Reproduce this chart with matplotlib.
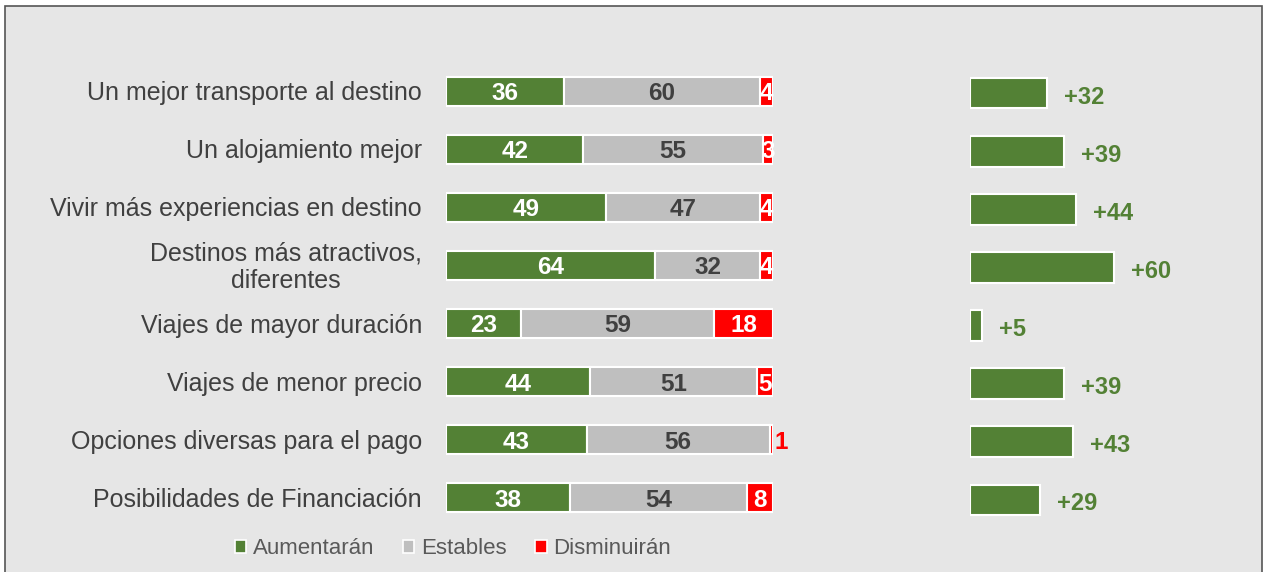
import matplotlib.pyplot as plt
from matplotlib.patches import Rectangle, Patch

plt.rcParams['font.family'] = ['Liberation Sans', 'DejaVu Sans']

categorias = ['Un mejor transporte al destino', 'Un alojamiento mejor',
              'Vivir más experiencias en destino', 'Destinos más atractivos,\ndiferentes',
              'Viajes de mayor duración', 'Viajes de menor precio',
              'Opciones diversas para el pago', 'Posibilidades de Financiación']
aumentaran = [36, 42, 49, 64, 23, 44, 43, 38]
estables = [60, 55, 47, 32, 59, 51, 56, 54]
disminuiran = [4, 3, 4, 4, 18, 5, 1, 8]
saldo = [32, 39, 44, 60, 5, 39, 43, 29]

verde = '#538135'
gris = '#BFBFBF'
rojo = '#FF0000'
texto = '#404040'

W, H = 1266, 572
fig = plt.figure(figsize=(W / 100, H / 100), dpi=100)
fig.patch.set_facecolor('white')

# marco gris de fondo
fig.patches.append(Rectangle((5 / W, -0.05), 1257 / W, 1.05 - 6 / H, transform=fig.transFigure,
                             facecolor='#E6E6E6', edgecolor='#555555', lw=1.2, zorder=-10))


def px_axes(x0, x1, y0, y1):
    return fig.add_axes([x0 / W, 1 - y1 / H, (x1 - x0) / W, (y1 - y0) / H])


# barras apiladas
ax = px_axes(446, 773, 62, 527)
ax.set_xlim(0, 100)
ax.set_ylim(len(categorias) - 0.5, -0.5)
ax.axis('off')
filas = range(len(categorias))
h = 0.5
ax.barh(filas, aumentaran, height=h, color=verde, edgecolor='white', lw=1.5)
ax.barh(filas, estables, left=aumentaran, height=h, color=gris, edgecolor='white', lw=1.5)
izq = [a + e for a, e in zip(aumentaran, estables)]
ax.barh(filas, disminuiran, left=izq, height=h, color=rojo, edgecolor='white', lw=1.5)

for i in filas:
    a, e, d = aumentaran[i], estables[i], disminuiran[i]
    ax.text(a / 2, i + 0.04, str(a), ha='center', va='center', color='white',
            fontsize=17.5, fontweight='bold')
    ax.text(a + e / 2, i + 0.04, str(e), ha='center', va='center', color=texto,
            fontsize=17.5, fontweight='bold')
    if d > 1:
        ax.text(a + e + d / 2, i + 0.04, str(d), ha='center', va='center', color='white',
                fontsize=17.5, fontweight='bold')
    else:
        ax.annotate(str(d), (a + e + d, i + 0.04), xytext=(2, 0), textcoords='offset pixels',
                    ha='left', va='center', color=rojo, fontsize=17.5, fontweight='bold')
    ax.annotate(categorias[i], (0, i), xytext=(-24, -2), textcoords='offset pixels',
                ha='right', va='center', multialignment='center', color=texto, fontsize=18,
                linespacing=1.2)

# saldo
ax2 = px_axes(970, 1266, 64, 529)
ax2.set_xlim(0, 296 / 2.4)
ax2.set_ylim(len(categorias) - 0.5, -0.5)
ax2.axis('off')
ax2.barh(filas, saldo, height=0.53, color=verde, edgecolor='white', lw=1.5)
for i in filas:
    ax2.annotate(f'+{saldo[i]}', (saldo[i], i), xytext=(17, -4), textcoords='offset pixels',
                 ha='left', va='center', color=verde, fontsize=17, fontweight='bold')

handles = [Patch(facecolor=c, edgecolor='white', lw=1.2) for c in (verde, gris, rojo)]
fig.legend(handles, ['Aumentarán', 'Estables', 'Disminuirán'], loc='center',
           bbox_to_anchor=(453 / W, 1 - 549 / H), ncol=3, frameon=False, fontsize=16,
           handlelength=0.5, handleheight=0.5, handletextpad=0.3, columnspacing=1.3,
           labelcolor='#595959')

fig.savefig('out.png', dpi=100)
